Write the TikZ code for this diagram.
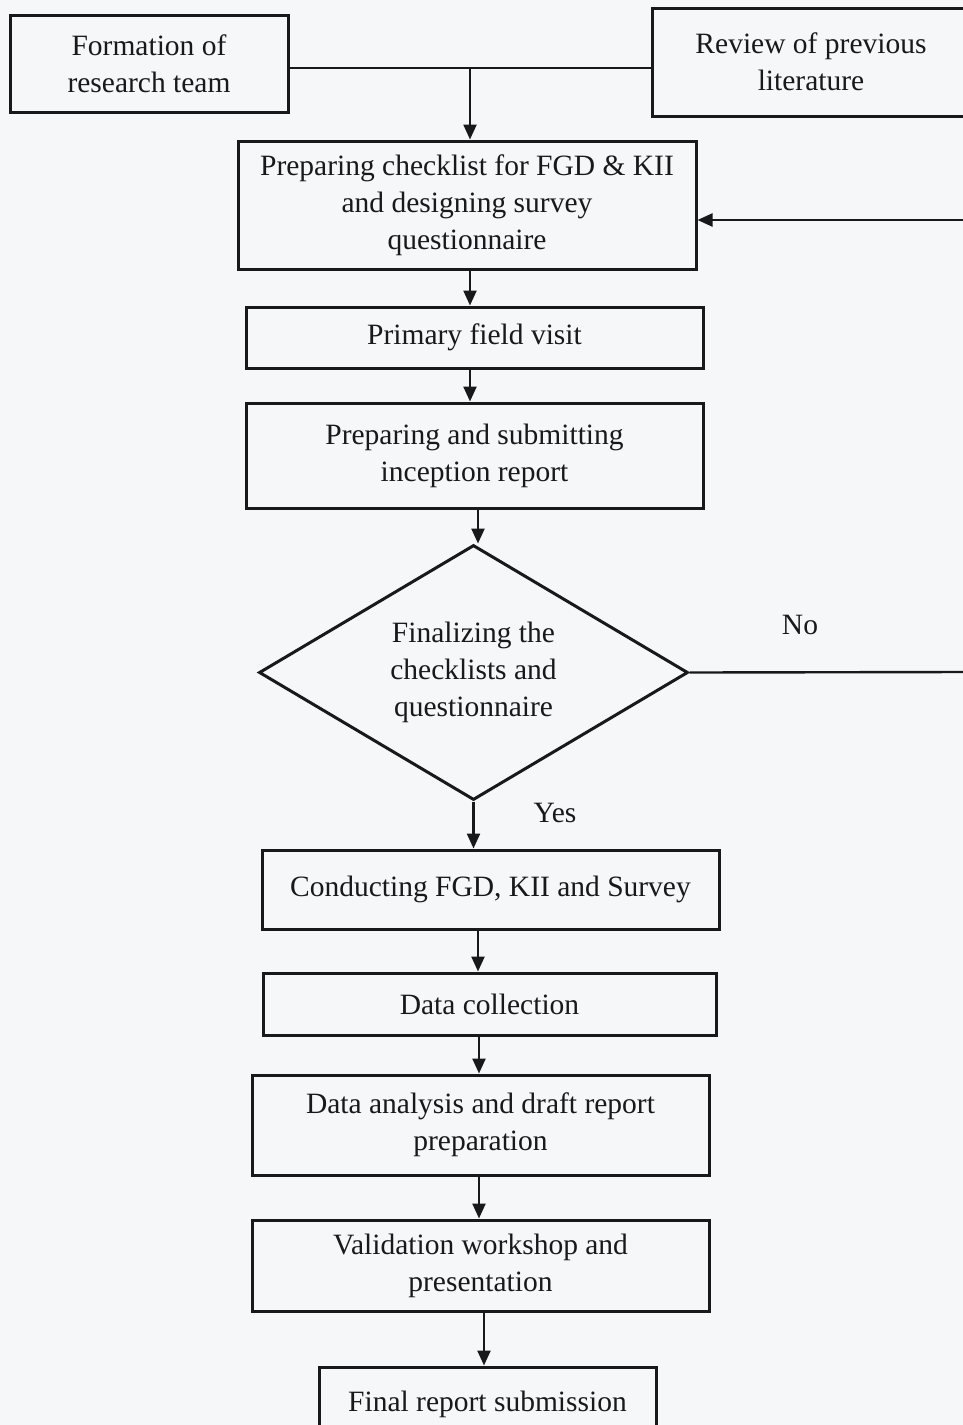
\documentclass[tikz,border=0pt]{standalone}
\usepackage{fontspec}
\setmainfont{Liberation Serif}
\usetikzlibrary{arrows.meta,shapes.geometric}
\definecolor{bgc}{RGB}{245,247,248}
\definecolor{ink}{RGB}{25,25,25}
\begin{document}
\begin{tikzpicture}[x=1pt,y=-1pt,
  every node/.style={font=\fontsize{29.5}{37}\selectfont, text=ink},
  box/.style={draw=ink, line width=3pt, rectangle, align=center, inner sep=0pt},
  conn/.style={draw=ink, line width=2.4pt},
  arr/.style={conn, -{Triangle[length=15pt,width=13pt]}},
  lab/.style={inner sep=0pt}]
\useasboundingbox[fill=bgc] (0,0) rectangle (963,1425);
% nodes
\node[box, minimum width=278pt, minimum height=97pt] (form) at (149,63.5) {Formation of\\research team};
\node[box, minimum width=318pt, minimum height=108pt] (rev) at (811,62) {Review of previous\\literature};
\node[box, minimum width=458pt, minimum height=128pt] (prep) at (467,205) {Preparing checklist for FGD \& KII\\and designing survey\\questionnaire};
\node[box, minimum width=457pt, minimum height=61pt] (pfv) at (474.5,337.5) {Primary field visit};
\node[box, minimum width=457pt, minimum height=105pt] (insp) at (474.5,455.5) {Preparing and submitting\\inception report};
\node[draw=ink, line width=3pt, diamond, shape aspect=1.68, inner sep=0pt, align=center,
      minimum width=429pt, minimum height=255pt] (dia) at (473.5,672.5) {Finalizing the\\checklists and\\questionnaire};
\node[box, minimum width=457pt, minimum height=79pt] (cond) at (490.5,889.5) {Conducting FGD, KII and Survey};
\node[box, minimum width=453pt, minimum height=62pt] (dc) at (489.5,1004) {Data collection};
\node[box, minimum width=457pt, minimum height=100pt] (da) at (480.5,1125) {Data analysis and draft report\\preparation};
\node[box, minimum width=457pt, minimum height=91pt] (val) at (480.5,1265.5) {Validation workshop and\\presentation};
\node[box, minimum width=337pt, minimum height=74pt] (fin) at (487.5,1404) {Final report submission};
\node[lab] (no) at (800,625) {No};
\node[lab] (yes) at (555,813) {Yes};
% coordinates
\coordinate (j) at (470,68);
\coordinate (fb) at (963,220);
\coordinate (noend) at (963,672);
\coordinate (c1) at (470,0);
\coordinate (c2) at (478,0);
\coordinate (c3) at (479,0);
\coordinate (c4) at (484,0);
% connectors
\draw[conn] (form.east |- j) -- (rev.west |- j);
\draw[arr] (j) -- (j |- prep.north);
\draw[arr] (fb) -- (fb -| prep.east);
\draw[arr] (c1 |- prep.south) -- (c1 |- pfv.north);
\draw[arr] (c1 |- pfv.south) -- (c1 |- insp.north);
\draw[arr] (c2 |- insp.south) -- (c2 |- dia.north);
\draw[conn] (dia.east) -- (noend);
\draw[arr] (dia.south) -- (dia.south |- cond.north);
\draw[arr] (c2 |- cond.south) -- (c2 |- dc.north);
\draw[arr] (c3 |- dc.south) -- (c3 |- da.north);
\draw[arr] (c3 |- da.south) -- (c3 |- val.north);
\draw[arr] (c4 |- val.south) -- (c4 |- fin.north);
\end{tikzpicture}
\end{document}
